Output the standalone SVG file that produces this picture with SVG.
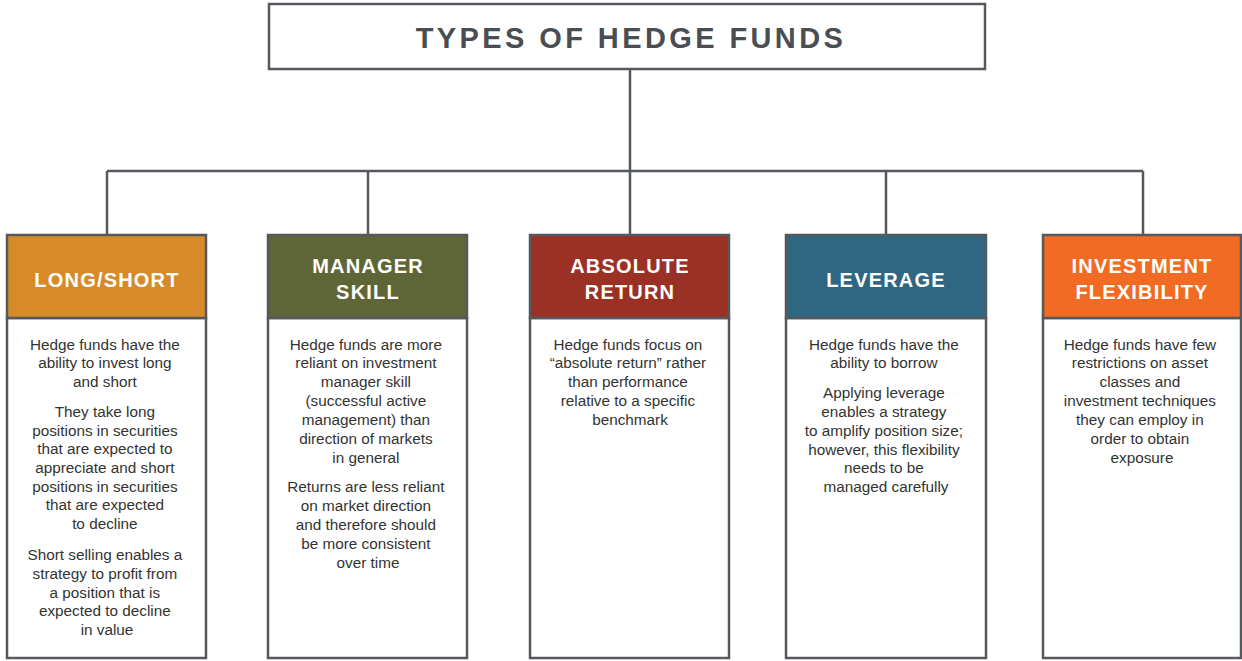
<svg xmlns="http://www.w3.org/2000/svg" width="1242" height="661" viewBox="0 0 1242 661">
  <style>
    .frame { fill: #ffffff; stroke: #55595e; stroke-width: 2.5; }
    .head { stroke: #55595e; stroke-width: 2.5; }
    .wire { fill: none; stroke: #55595e; stroke-width: 2.5; }
    .title { font-family: "Liberation Sans", Arial, sans-serif; font-weight: bold; font-size: 29px; letter-spacing: 3.4px; fill: #4a4d52; text-anchor: middle; }
    .htxt { font-family: "Liberation Sans", Arial, sans-serif; font-weight: bold; font-size: 20px; letter-spacing: 1.2px; fill: #ffffff; text-anchor: middle; }
    .body { font-family: "Liberation Sans", Arial, sans-serif; font-size: 15.3px; fill: #333333; text-anchor: middle; }
  </style>

  <g id="title">
    <rect class="frame" x="269" y="4" width="716" height="65"/>
    <text class="title" x="631" y="48">TYPES OF HEDGE FUNDS</text>
  </g>

  <g id="connectors">
    <path class="wire" d="M630 69 V171 M107 171 H1143 M107 171 V235 M368 171 V235 M630 171 V235 M886 171 V235 M1143 171 V235"/>
  </g>

  <g id="long-short">
    <rect class="frame" x="7" y="318" width="199" height="340"/>
    <rect class="head" fill="#d68a29" x="7" y="235" width="199" height="83"/>
    <text class="htxt" x="107" y="287">LONG/SHORT</text>
    <text class="body">
      <tspan x="107" y="350">Hedge funds have the</tspan>
      <tspan x="107" y="368">ability to invest long</tspan>
      <tspan x="107" y="387">and short</tspan>
      <tspan x="107" y="417">They take long</tspan>
      <tspan x="107" y="436">positions in securities</tspan>
      <tspan x="107" y="454">that are expected to</tspan>
      <tspan x="107" y="473">appreciate and short</tspan>
      <tspan x="107" y="492">positions in securities</tspan>
      <tspan x="107" y="510">that are expected</tspan>
      <tspan x="107" y="529">to decline</tspan>
      <tspan x="107" y="560">Short selling enables a</tspan>
      <tspan x="107" y="579">strategy to profit from</tspan>
      <tspan x="107" y="598">a position that is</tspan>
      <tspan x="107" y="616">expected to decline</tspan>
      <tspan x="107" y="635">in value</tspan>
    </text>
  </g>

  <g id="manager-skill">
    <rect class="frame" x="268" y="318" width="199" height="340"/>
    <rect class="head" fill="#5e6638" x="268" y="235" width="199" height="83"/>
    <text class="htxt" x="368" y="273">MANAGER</text>
    <text class="htxt" x="368" y="299">SKILL</text>
    <text class="body">
      <tspan x="368" y="350">Hedge funds are more</tspan>
      <tspan x="368" y="368">reliant on investment</tspan>
      <tspan x="368" y="387">manager skill</tspan>
      <tspan x="368" y="406">(successful active</tspan>
      <tspan x="368" y="425">management) than</tspan>
      <tspan x="368" y="444">direction of markets</tspan>
      <tspan x="368" y="463">in general</tspan>
      <tspan x="368" y="492">Returns are less reliant</tspan>
      <tspan x="368" y="511">on market direction</tspan>
      <tspan x="368" y="530">and therefore should</tspan>
      <tspan x="368" y="549">be more consistent</tspan>
      <tspan x="368" y="568">over time</tspan>
    </text>
  </g>

  <g id="absolute-return">
    <rect class="frame" x="530" y="318" width="199" height="340"/>
    <rect class="head" fill="#9b3024" x="530" y="235" width="199" height="83"/>
    <text class="htxt" x="630" y="273">ABSOLUTE</text>
    <text class="htxt" x="630" y="299">RETURN</text>
    <text class="body">
      <tspan x="630" y="350">Hedge funds focus on</tspan>
      <tspan x="630" y="368">“absolute return” rather</tspan>
      <tspan x="630" y="387">than performance</tspan>
      <tspan x="630" y="406">relative to a specific</tspan>
      <tspan x="630" y="425">benchmark</tspan>
    </text>
  </g>

  <g id="leverage">
    <rect class="frame" x="786" y="318" width="200" height="340"/>
    <rect class="head" fill="#2f6682" x="786" y="235" width="200" height="83"/>
    <text class="htxt" x="886" y="287">LEVERAGE</text>
    <text class="body">
      <tspan x="886" y="350">Hedge funds have the</tspan>
      <tspan x="886" y="368">ability to borrow</tspan>
      <tspan x="886" y="398">Applying leverage</tspan>
      <tspan x="886" y="417">enables a strategy</tspan>
      <tspan x="886" y="436">to amplify position size;</tspan>
      <tspan x="886" y="455">however, this flexibility</tspan>
      <tspan x="886" y="473">needs to be</tspan>
      <tspan x="886" y="492">managed carefully</tspan>
    </text>
  </g>

  <g id="investment-flexibility">
    <rect class="frame" x="1043" y="318" width="198" height="340"/>
    <rect class="head" fill="#f26b24" x="1043" y="235" width="198" height="83"/>
    <text class="htxt" x="1142" y="273">INVESTMENT</text>
    <text class="htxt" x="1142" y="299">FLEXIBILITY</text>
    <text class="body">
      <tspan x="1142" y="350">Hedge funds have few</tspan>
      <tspan x="1142" y="368">restrictions on asset</tspan>
      <tspan x="1142" y="387">classes and</tspan>
      <tspan x="1142" y="406">investment techniques</tspan>
      <tspan x="1142" y="425">they can employ in</tspan>
      <tspan x="1142" y="444">order to obtain</tspan>
      <tspan x="1142" y="463">exposure</tspan>
    </text>
  </g>
</svg>
